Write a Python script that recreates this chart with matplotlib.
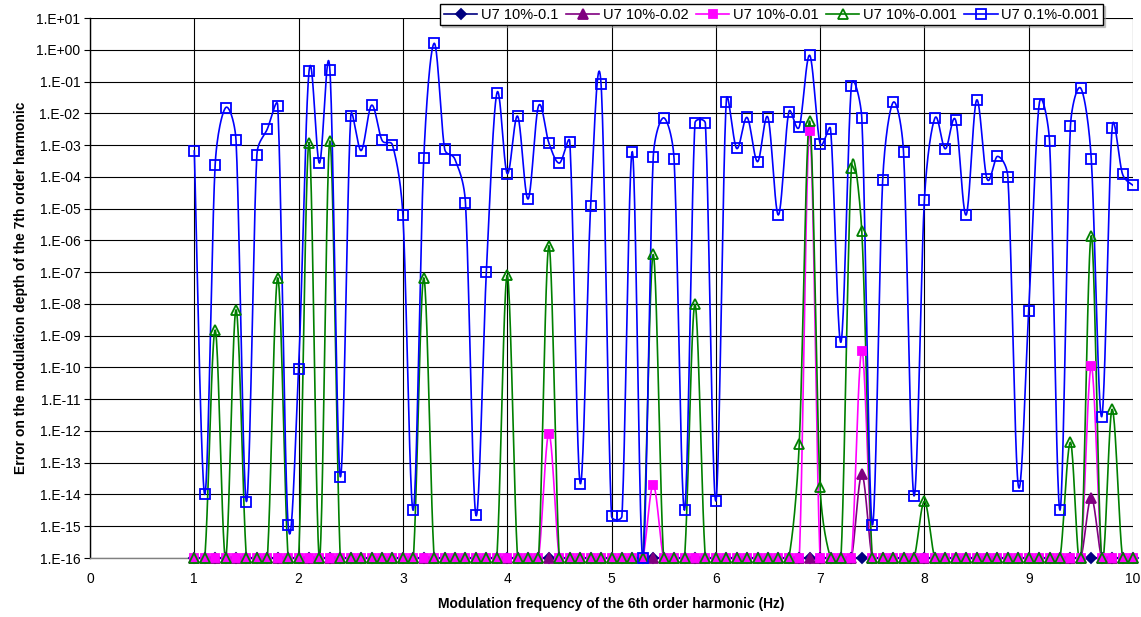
import numpy as np
import matplotlib.pyplot as plt
from matplotlib.lines import Line2D
from matplotlib.ticker import FixedLocator, FuncFormatter

plt.rcParams['font.family'] = ['Liberation Sans', 'DejaVu Sans']

# modulation frequency of the 6th harmonic, 1.0 .. 10.0 Hz in 0.1 Hz steps
freq = np.round(np.arange(10, 101) / 10, 1)

F = 1e-16  # values at or below the axis floor

u7_10_01 = [F] * 91

u7_10_002 = [
    F, F, F, F, F, F, F, F, F, F,
    F, F, F, F, F, F, F, F, F, F,
    F, F, F, F, F, F, F, F, F, F,
    F, F, F, F, F, F, F, F, F, F,
    F, F, F, F, F, F, F, F, F, F,
    F, F, F, F, F, F, F, F, F, F,
    F, F, F, F, 4.3e-14, F, F, F, F, F,
    F, F, F, F, F, F, F, F, F, F,
    F, F, F, F, F, F, 8e-15, F, F, F,
    F,
]

u7_10_001 = [
    F, F, F, F, F, F, F, F, F, F,
    F, F, F, F, F, F, F, F, F, F,
    F, F, F, F, F, F, F, F, F, F,
    F, F, F, F, 8.3e-13, F, F, F, F, F,
    F, F, F, F, 2e-14, F, F, F, F, F,
    F, F, F, F, F, F, F, F, F, 2.8e-3,
    F, F, F, F, 3.4e-10, F, F, F, F, F,
    F, F, F, F, F, F, F, F, F, F,
    F, F, F, F, F, F, 1.07e-10, F, F, F,
    F,
]

u7_10_0001 = [
    F, F, 1.5e-9, F, 6.5e-9, F, F, F, 6.6e-8, F,
    F, 1.2e-3, F, 1.35e-3, F, F, F, F, F, F,
    F, F, 6.6e-8, F, F, F, F, F, F, F,
    8e-8, F, F, F, 6.8e-7, F, F, F, F, F,
    F, F, F, F, 3.6e-7, F, F, F, 9.8e-9, F,
    F, F, F, F, F, F, F, F, 3.9e-13, 5.7e-3,
    1.7e-14, F, F, 1.9e-4, 1.9e-6, F, F, F, F, F,
    6.1e-15, F, F, F, F, F, F, F, F, F,
    F, F, F, F, 4.4e-13, F, 1.4e-6, F, 4.8e-12, F,
    F,
]

u7_01_0001 = [
    6.5e-4, 1e-14, 2.4e-4, 1.5e-2, 1.4e-3, 6e-15, 4.9e-4, 3.2e-3, 1.7e-2, 1.1e-15,
    9e-11, 0.21, 2.7e-4, 0.23, 3.6e-14, 8e-3, 6.7e-4, 1.8e-2, 1.4e-3, 1.0e-3,
    6.2e-6, 3.2e-15, 3.8e-4, 1.6, 7.6e-4, 3.5e-4, 1.5e-5, 2.2e-15, 1.0e-7, 4.2e-2,
    1.26e-4, 8.1e-3, 2e-5, 1.7e-2, 1.15e-3, 2.7e-4, 1.25e-3, 2.2e-14, 1.2e-5, 8.2e-2,
    2.1e-15, 2.1e-15, 6.2e-4, 1e-16, 4.1e-4, 7.2e-3, 3.6e-4, 3.2e-15, 4.9e-3, 4.8e-3,
    6.2e-15, 2.3e-2, 7.8e-4, 7.4e-3, 3e-4, 7.4e-3, 6.3e-6, 1.1e-2, 3.7e-3, 0.67,
    1.1e-3, 3.2e-3, 6.2e-10, 7.4e-2, 7e-3, 1.1e-15, 7.8e-5, 2.2e-2, 6e-4, 9e-15,
    1.9e-5, 7e-3, 7.6e-4, 6e-3, 6.3e-6, 2.6e-2, 8.7e-5, 4.4e-4, 1.0e-4, 1.9e-14,
    5.9e-9, 1.9e-2, 1.3e-3, 3.2e-15, 3.9e-3, 6.1e-2, 3.6e-4, 2.8e-12, 3.5e-3, 1.2e-4,
    5.4e-5,
]

series = [
    ("U7 10%-0.1", u7_10_01, dict(color="#000080", marker="D", ms=5, mfc="#000080")),
    ("U7 10%-0.02", u7_10_002, dict(color="#800080", marker="^", ms=6.5, mfc="#800080")),
    ("U7 10%-0.01", u7_10_001, dict(color="#FF00FF", marker="s", ms=6, mfc="#FF00FF")),
    ("U7 10%-0.001", u7_10_0001, dict(color="#008000", marker="^", ms=6.5, mfc="none")),
    ("U7 0.1%-0.001", u7_01_0001, dict(color="#0000FF", marker="s", ms=7, mfc="none")),
]

# pixel size of one x unit and one decade, used so the smoothing works in screen space
SX, SY = 104.3, 31.76


def smooth(x, y, n=24):
    # bezier through the points; each control arm is 1/6 of the neighbour chord,
    # capped at half of the segment length (keeps spikes from overshooting)
    x = np.asarray(x, float) * SX
    ly = np.log10(np.asarray(y, float)) * SY
    P = np.column_stack([x, ly])
    P = np.vstack([P[:1], P, P[-1:]])
    t = np.linspace(0, 1, n)[:, None]
    out = []
    for i in range(len(x) - 1):
        p0, p1, p2, p3 = P[i], P[i + 1], P[i + 2], P[i + 3]
        d12 = np.hypot(*(p2 - p1))
        a1 = (p2 - p0) / 6
        a2 = (p3 - p1) / 6
        for a in (a1, a2):
            la = np.hypot(*a)
            if la > d12 / 2 and la > 0:
                a *= (d12 / 2) / la
        c1 = p1 + a1
        c2 = p2 - a2
        b = (1 - t) ** 3 * p1 + 3 * (1 - t) ** 2 * t * c1 + 3 * (1 - t) * t ** 2 * c2 + t ** 3 * p2
        out.append(b)
    b = np.vstack(out)
    return b[:, 0] / SX, 10 ** (b[:, 1] / SY)


fig = plt.figure(figsize=(11.41, 6.17), dpi=100)
ax = fig.add_axes([90 / 1141, 1 - 558 / 617, (1133 - 90) / 1141, (558 - 18) / 617])

handles = []
for name, vals, st in series:
    sx, sy = smooth(freq, vals)
    ax.plot(sx, sy, color=st["color"], lw=1.2, zorder=3)
    ax.plot(freq, vals, ls="none", marker=st["marker"], ms=st["ms"], mfc=st["mfc"],
            mec=st["color"], mew=1.3, clip_on=False, zorder=4)
    handles.append(Line2D([], [], color=st["color"], lw=1.2, marker=st["marker"],
                          ms=st["ms"], mfc=st["mfc"], mec=st["color"], mew=1.3))

ax.set_yscale("log")
ax.set_xlim(0, 10)
ax.set_ylim(1e-16, 1e1)
ax.yaxis.set_major_locator(FixedLocator([10.0 ** e for e in range(-16, 2)]))
ax.yaxis.set_minor_locator(FixedLocator([]))
ax.yaxis.set_major_formatter(FuncFormatter(lambda v, p: "1.E%+03d" % round(np.log10(v))))
ax.set_xticks(range(0, 11))

ax.grid(True, which="major", color="black", lw=0.8)
ax.set_axisbelow(True)
for s in ["top", "right"]:
    ax.spines[s].set_visible(False)
ax.spines["left"].set_linewidth(1.0)
ax.spines["bottom"].set_linewidth(1.0)
ax.spines["bottom"].set_color("#808080")
ax.tick_params(axis="y", direction="out", length=4, labelsize=10, pad=3)
ax.tick_params(axis="x", direction="out", length=0, labelsize=10, pad=10)

ax.set_xlabel("Modulation frequency of the 6th order harmonic (Hz)", fontsize=10,
              fontweight="bold", labelpad=8)
ax.set_ylabel("Error on the modulation depth of the 7th order harmonic", fontsize=10,
              fontweight="bold", labelpad=6)

leg = fig.legend(handles, [s[0] for s in series], loc="upper right",
                 bbox_to_anchor=(1103 / 1141, 1 - 4 / 617), ncol=5, fontsize=10.5,
                 frameon=True, fancybox=False, edgecolor="black", framealpha=1,
                 handlelength=2.3, handletextpad=0.25, columnspacing=0.5,
                 borderpad=0.25, borderaxespad=0,
                 shadow={"ox": 1.5, "oy": -1.5, "color": "#999999"})
leg.get_frame().set_linewidth(1.0)

fig.savefig("out.png", dpi=100)
